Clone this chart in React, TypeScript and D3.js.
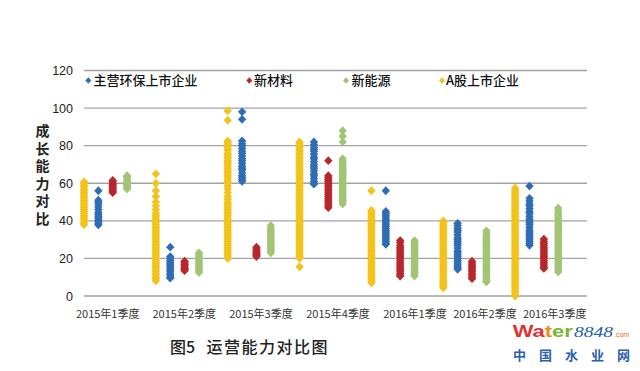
import React from "react";
import * as d3 from "d3";

// ---------- data ----------
const quarters = ["2015年1季度", "2015年2季度", "2015年3季度", "2015年4季度", "2016年1季度", "2016年2季度", "2016年3季度"];
const seriesNames = ["A股上市企业", "主营环保上市企业", "新材料", "新能源"];
const legendOrder = ["主营环保上市企业", "新材料", "新能源", "A股上市企业"];
const seriesColors = ["#f2c31c", "#2f6db3", "#b7272c", "#a3c475"];
const yTicks = [0, 20, 40, 60, 80, 100, 120];
const yTitle = "成长能力对比";
const caption = ["图5", "运营能力对比图"];

const aShare: number[][] = [
  [60.7, 60, 59, 58, 57, 56, 55, 54, 53, 52, 51, 50, 49, 48, 47, 46, 45, 44, 43, 42, 41, 40, 39, 38],
  [65, 60, 56, 53, 50, 48, 46, 44, 43, 42, 41, 40, 39, 38, 37, 36, 35, 34, 33, 32, 31, 30, 29, 28, 27, 26, 25, 24, 23, 22, 21, 20, 19, 18, 17, 16, 15, 14, 13, 12, 11, 10, 9, 8],
  [98.5, 93.5, 82.5, 81.5, 80.5, 79.5, 78.5, 77.5, 76, 75, 74, 73, 72, 71, 70, 69, 68, 67, 66, 65, 64, 63, 62, 61, 60, 58.5, 57, 55, 53, 51.5, 50, 49, 48, 47, 46, 45, 44, 43, 42, 41, 40, 39, 38, 37, 36, 35, 34, 33, 32, 31, 30, 29, 28, 27, 26, 25, 24, 23, 22, 21, 20],
  [82, 81, 80, 79, 78, 77, 76, 75, 74, 73, 72, 71, 70, 69, 68, 67, 66, 65, 64, 63, 62, 61, 60, 59, 58, 57, 56, 55, 54, 53, 52, 51, 50, 49, 48, 47, 46, 45, 44, 43, 42, 41, 40, 39, 38, 37, 36, 35, 34, 33, 32, 31, 30, 29, 28, 27, 26, 25, 24, 23, 22, 21, 20, 15.5],
  [56, 45.5, 44.5, 43.5, 42.5, 41.5, 40.5, 39.5, 38.5, 37.5, 36.5, 35.5, 34.5, 33.5, 32.5, 31.5, 30.5, 29.5, 28.5, 27.5, 26.5, 25.5, 24.5, 23.5, 22.5, 21.5, 20.5, 19.5, 18.5, 17.5, 16.5, 15.5, 14.5, 13.5, 12.5, 11.5, 10.5, 9.5, 8.5, 7.5, 7],
  [40, 39, 38, 37, 36, 35, 34, 33, 32, 31, 30, 29, 28, 27, 26, 25, 24, 23, 22, 21, 20, 19, 18, 17, 16, 15, 14, 13, 12, 11, 10, 9, 8, 7, 6, 5, 4.4],
  [57.5, 56.5, 55.5, 54.5, 53.5, 52.5, 51.5, 50.5, 49.5, 48.5, 47.5, 46.5, 45.5, 44.5, 43.5, 42.5, 41.5, 40.5, 39.5, 38.5, 37.5, 36.5, 35.5, 34.5, 33.5, 32.5, 31.5, 30.5, 29.5, 28.5, 27.5, 26.5, 25.5, 24.5, 23.5, 22.5, 21.5, 20.5, 19.5, 18.5, 17.5, 16.5, 15.5, 14.5, 13.5, 12.5, 11.5, 10.5, 9.5, 8.5, 7.5, 6.5, 5.5, 4.5, 3.5, 2.5, 1.5, 0.5, 0],
];
const envMain: number[][] = [
  [56, 51, 50, 49, 47.5, 46, 44.5, 43.5, 42.5, 41.5, 40.5, 39.5, 38.5, 37.8],
  [26, 21, 20, 19, 18, 17, 16, 15, 14, 13, 12, 11, 10, 9.5],
  [98, 94, 82.5, 81, 80, 78.5, 77, 76, 74.5, 73, 72, 70.5, 69, 68, 67, 65.5, 64, 63, 62, 61],
  [82, 80.5, 79, 78, 77, 75.5, 74, 73, 71.5, 70, 69, 68, 66.5, 65, 64, 62.5, 61, 60, 59.5],
  [56, 45, 44, 43, 42, 41, 40, 39, 38, 37, 36, 35, 34, 33, 32, 31, 30, 29, 28, 27.5],
  [38.7, 37.5, 36, 35, 34, 32.5, 31, 30, 29, 28, 27, 25.5, 24, 23, 22, 21, 20, 19, 18, 17, 16, 15, 14.2],
  [58.5, 52, 50.5, 49, 48, 46.5, 45, 44, 42.5, 41, 40, 39, 38, 36.5, 35, 34, 33, 32, 31, 30, 29, 28, 27],
];
const newMaterial: number[][] = [
  [61.5, 61, 60, 59.5, 59, 58, 57.5, 57, 56, 55.5, 55],
  [18.5, 18, 17, 16.5, 16, 15, 14.5, 14, 13.5],
  [26, 25, 24.5, 24, 23, 22.5, 22, 21.5, 21],
  [72, 64, 63, 62, 61, 60, 59, 58, 57, 56, 55, 54, 53, 52, 51, 50, 49, 48, 47],
  [29.5, 28.5, 27, 26, 25, 24, 23, 22, 21, 20, 19, 18, 17, 16, 15, 14, 13, 12, 11, 10.6],
  [18.5, 17.5, 16.5, 16, 15, 14, 13, 12, 11, 10, 9.2],
  [30.3, 29, 28, 27, 26, 25, 24, 23, 22, 21, 20, 19, 18, 17, 16, 15, 14.7],
];
const newEnergy: number[][] = [
  [64, 63.5, 63, 62, 61, 60, 59.5, 59, 58, 57.5, 57],
  [23, 22, 21, 20, 19, 18, 17, 16, 15, 14, 13, 12.5],
  [37.5, 36, 35, 34, 33, 32, 31, 30, 29, 28, 27, 26, 25, 24, 23],
  [88, 85, 82, 73, 72, 71, 70, 69, 68, 67, 66, 65, 64, 63, 62, 61, 60, 59, 58, 57, 56, 55, 54, 53, 52, 51, 50, 49],
  [29.5, 28.5, 27.5, 26.5, 25.5, 24.5, 23.5, 22.5, 21.5, 20.5, 19.5, 18.5, 17.5, 16.5, 15.5, 14.5, 13.5, 12.5, 11.5, 10.6],
  [34.7, 33.5, 32, 31, 30, 29, 28, 27, 26, 25, 24, 23, 22, 21, 20, 19, 18, 17, 16, 15, 14, 13, 12, 11, 10, 9, 8, 7.5],
  [46.8, 45.5, 44, 43, 42, 41, 40, 39, 38, 37, 36, 35, 34, 33, 32, 31, 30, 29, 28, 27, 26, 25, 24, 23, 22, 21, 20, 19, 18, 17, 16, 15, 14, 12.8],
];
const seriesValues = [aShare, envMain, newMaterial, newEnergy];

// ---------- layout ----------
const W = 640, H = 371;
const x = d3.scaleLinear().domain([1, 8]).range([84, 587]);
const y = d3.scaleLinear().domain([0, 120]).range([296, 70.5]);
const seriesStep = 0.2;
const labelAt = [1.33, 2.395, 3.463, 4.535, 5.606, 6.58, 7.55];
const legendPos = [[88.3, 93.5], [249.3, 254], [346, 351.5], [442, 446]];
const CJK = "'Noto Sans CJK SC', 'Liberation Sans', sans-serif";
const SANS = "'Liberation Sans', Arial, sans-serif";

const diamond = (cx: number, cy: number, rx: number, ry: number) =>
  `M${cx},${cy - ry}L${cx + rx},${cy}L${cx},${cy + ry}L${cx - rx},${cy}Z`;

export default function App() {
  return (
    <svg width={W} height={H} viewBox={`0 0 ${W} ${H}`}
      style={{ position: "absolute", left: 0, top: 0, background: "#fff" }}>
      <rect width={W} height={H} fill="#fff" />
      {/* gridlines */}
      {yTicks.map((t) => (
        <line key={"g" + t} x1={x(1)} x2={x(8)} y1={y(t)} y2={y(t)} stroke="#a3a3a3" strokeWidth={1.4} />
      ))}
      {/* y tick labels */}
      {yTicks.map((t) => (
        <text key={"t" + t} x={73} y={y(t)} dy="0.36em" textAnchor="end" fontSize={12.5}
          fontFamily={SANS} fill="#222">{t}</text>
      ))}
      {/* y title (vertical) */}
      <text x={42.5} y={124} fontSize={14} fontWeight={700} fontFamily={CJK} fill="#222"
        style={{ writingMode: "vertical-rl", textOrientation: "upright", letterSpacing: "3.5px" } as any}>{yTitle}</text>
      {/* points */}
      {seriesValues.map((sv, j) => (
        <g key={"s" + j} fill={seriesColors[j]}>
          {sv.map((vals, qi) =>
            vals.map((v, k) => (
              <path key={qi + "-" + k} d={diamond(x(qi + 1 + j * seriesStep), y(v), 4.2, 4.4)} />
            ))
          )}
        </g>
      ))}
      {/* x labels */}
      {quarters.map((q, i) => (
        <text key={"q" + i} x={x(labelAt[i])} y={314} dy="0.36em" textAnchor="middle" fontSize={11}
          fontFamily={CJK} fill="#333">{q}</text>
      ))}
      {/* legend */}
      {legendOrder.map((name, i) => {
        const j = seriesNames.indexOf(name);
        return (
          <g key={"l" + i}>
            <path d={diamond(legendPos[i][0], 80.5, 3, 3.3)} fill={seriesColors[j]} />
            <text x={legendPos[i][1]} y={80.5} dy="0.36em" fontSize={13} fontWeight={500}
              fontFamily={CJK} fill="#111">{name}</text>
          </g>
        );
      })}
      {/* caption */}
      <text x={170} y={347} dy="0.36em" fontSize={16} fontFamily={CJK} fontWeight={500} fill="#222">{caption[0]}</text>
      <text x={206.5} y={347} dy="0.36em" fontSize={16} fontFamily={CJK} fontWeight={500} fill="#222"
        textLength={121} lengthAdjust="spacing">{caption[1]}</text>
      {/* watermark */}
      <text x={512.7} y={337} fontSize={16} fontWeight={900} fontFamily={SANS}
        textLength={60} lengthAdjust="spacingAndGlyphs">
        <tspan fill="#e3312f">Wa</tspan><tspan fill="#f08a1c">t</tspan><tspan fill="#78b52c">er</tspan>
      </text>
      <text x={574} y={337} fontSize={15} fontStyle="italic" fontFamily="'Liberation Serif', serif"
        fill="#1f5fae" textLength={39} lengthAdjust="spacingAndGlyphs">8848</text>
      <text x={614} y={337} fontSize={7} fontFamily={SANS} fill="#e8612c">.com</text>
      <text x={513} y={355} dy="0.36em" fontSize={13} fontWeight={700} fontFamily={CJK} fill="#2a5fae"
        textLength={117} lengthAdjust="spacing">中国水业网</text>
    </svg>
  );
}
